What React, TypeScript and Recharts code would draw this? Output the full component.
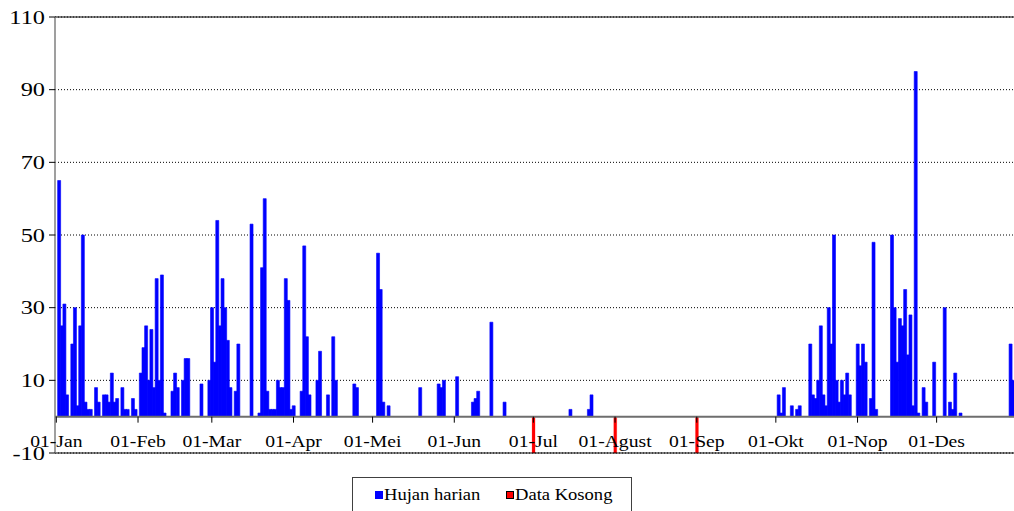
import React from 'react';
import { BarChart, Bar, XAxis, YAxis, CartesianGrid, ReferenceLine, Legend } from 'recharts';

// ---- data ----
const monthLabels = ['01-Jan', '01-Feb', '01-Mar', '01-Apr', '01-Mei', '01-Jun', '01-Jul', '01-Agust', '01-Sep', '01-Okt', '01-Nop', '01-Des'];
const monthStartDays = [0, 31, 59, 90, 120, 151, 181, 212, 243, 273, 304, 334];
const daysInYear = 365;

// day-of-year (0 = 01-Jan) and daily rainfall (mm), first half of the year
const firstHalfDays = [
  1, 2, 3, 4, 6, 7, 8, 9, 10, 11, 12, 13, 15, 16, 18, 19, 20, 21, 22, 23, 25, 26, 27, 29, 30,
  32, 33, 34, 35, 36, 37, 38, 39, 40, 41, 44, 45, 46, 48, 49, 50, 55,
  58, 59, 60, 61, 62, 63, 64, 65, 66, 68, 69, 74, 77, 78, 79, 80, 81, 82, 83, 84, 85, 86, 87, 88, 89,
  90, 93, 94, 95, 96, 99, 100, 103, 105, 106, 113, 114,
  122, 123, 124, 126, 138,
  145, 146, 147, 152, 158, 159, 160, 165, 170,
];
const firstHalfMm = [
  65, 25, 31, 6, 20, 30, 3, 25, 50, 4, 2, 2, 8, 4, 6, 6, 4, 12, 4, 5, 8, 2, 2, 5, 2,
  12, 19, 25, 10, 24, 8, 38, 10, 39, 1, 7, 12, 8, 10, 16, 16, 9,
  10, 30, 15, 54, 25, 38, 30, 21, 8, 7, 20, 53, 1, 41, 60, 7, 2, 2, 2, 10, 8, 8, 38, 32, 2,
  3, 7, 47, 22, 6, 10, 18, 6, 22, 10, 9, 8,
  45, 35, 4, 3, 8,
  9, 8, 10, 11, 4, 5, 7, 26, 4,
];
// second half of the year
const secondHalfDays = [
  195, 202, 203,
  274, 275, 276, 279, 281, 282, 286, 287, 288, 289, 290, 291, 292, 293, 294, 295, 296, 297, 298, 299, 300, 301,
  304, 305, 306, 307, 309, 310, 311, 317, 318, 319, 320, 321, 322, 323, 324, 325, 326, 327, 329, 330, 333,
  337, 339, 340, 341, 343, 362, 363,
];
const secondHalfMm = [
  2, 2, 6,
  6, 1, 8, 3, 2, 3, 20, 6, 5, 10, 25, 6, 3, 30, 20, 50, 10, 4, 10, 6, 12, 6,
  20, 14, 20, 15, 5, 48, 2, 50, 30, 15, 27, 25, 35, 17, 28, 3, 95, 1, 8, 4, 15,
  30, 4, 2, 12, 1, 20, 10,
];
// days with missing data (drawn as -10)
const missingDays = [181, 212, 243];
const missingValue = -10;

const seriesNames = ['Hujan harian', 'Data Kosong'];
const yTicks = [-10, 10, 30, 50, 70, 90, 110];
const Y_MIN = -10;
const Y_MAX = 110;

const data = Array.from({ length: daysInYear }, (_, d) => ({ day: d, hujan: 0, kosong: 0 }));
firstHalfDays.forEach((d, i) => { data[d].hujan = firstHalfMm[i]; });
secondHalfDays.forEach((d, i) => { data[d].hujan = secondHalfMm[i]; });
missingDays.forEach((d) => { data[d].kosong = missingValue; });

// ---- layout ----
const CHART_W = 1020;
const CHART_H = 511;
const MARGIN = { top: 17, right: 3, left: 0, bottom: 28 };
const X_AXIS_H = 30;
const PLOT_H = CHART_H - MARGIN.top - MARGIN.bottom - X_AXIS_H;
const zeroY = MARGIN.top + (PLOT_H * (Y_MAX - 0)) / (Y_MAX - Y_MIN);

const FONT = 'Liberation Serif, Times New Roman, serif';

function XTick(props: any) {
  const { x, payload } = props;
  const idx = monthStartDays.indexOf(payload.value);
  const label = idx >= 0 ? monthLabels[idx] : '';
  return (
    <g>
      <line x1={x} x2={x} y1={zeroY} y2={zeroY + 6} stroke="#000" strokeWidth={1} />
      <text
        transform={`translate(${x},${zeroY + 30}) scale(1.19,1)`}
        textAnchor="middle"
        style={{ fontFamily: FONT }}
        fontSize={16.5}
        fill="#000"
      >
        {label}
      </text>
    </g>
  );
}

function YTick(props: any) {
  const { x, y, payload } = props;
  return (
    <text
      transform={`translate(${x - 2},${y}) scale(1.25,1)`}
      textAnchor="end"
      dy="0.35em"
      style={{ fontFamily: FONT }}
      fontSize={19.5}
      fill="#000"
    >
      {payload.value}
    </text>
  );
}

function LegendBox(props: any) {
  const payload = [...(props.payload || [])].sort(
    (a: any, b: any) => seriesNames.indexOf(a.value) - seriesNames.indexOf(b.value)
  );
  const lefts = [22, 153];
  return (
    <div
      style={{
        position: 'relative',
        width: 280,
        height: 42,
        border: '1px solid #404040',
        boxSizing: 'border-box',
        background: '#fff',
      }}
    >
      {payload.map((entry: any, i: number) => (
        <React.Fragment key={i}>
          <span
            style={{
              position: 'absolute',
              left: lefts[i],
              top: 13,
              width: 8,
              height: 8,
              boxSizing: 'border-box',
              background: entry.color,
              border: i === 1 ? '1px solid #000' : 'none',
            }}
          />
          <span
            style={{
              position: 'absolute',
              left: lefts[i] + 9,
              top: 9,
              fontFamily: FONT,
              fontSize: 16,
              lineHeight: '16px',
              color: '#000',
              whiteSpace: 'nowrap',
              transform: 'scaleX(1.16)',
              transformOrigin: 'left center',
            }}
          >
            {entry.value}
          </span>
        </React.Fragment>
      ))}
    </div>
  );
}

export default function App() {
  return (
    <div
      style={{
        position: 'fixed',
        left: 0,
        top: 0,
        width: 1014,
        height: 511,
        overflow: 'hidden',
        background: '#fff',
      }}
    >
      <BarChart
        width={CHART_W}
        height={CHART_H}
        data={data}
        margin={MARGIN}
        barCategoryGap={0}
        barGap={0}
        stackOffset="sign"
      >
        <CartesianGrid vertical={false} stroke="#000" strokeDasharray="1 2" />
        <XAxis
          dataKey="day"
          type="category"
          ticks={monthStartDays}
          interval={0}
          height={X_AXIS_H}
          axisLine={{ stroke: '#000', strokeWidth: 1 }}
          tickLine={false}
          tick={<XTick />}
        />
        <YAxis
          type="number"
          domain={[Y_MIN, Y_MAX]}
          ticks={yTicks}
          interval={0}
          width={55}
          axisLine={{ stroke: '#7f7f7f', strokeWidth: 1.5 }}
          tickLine={{ stroke: '#000' }}
          tickSize={6}
          tick={<YTick />}
        />
        <ReferenceLine y={Y_MAX} stroke="#000" strokeWidth={1} />
        <Bar
          dataKey="hujan"
          name={seriesNames[0]}
          stackId="a"
          fill="#0000ff"
          stroke="#0000ff"
          strokeWidth={0.6}
          isAnimationActive={false}
        />
        <Bar
          dataKey="kosong"
          name={seriesNames[1]}
          stackId="a"
          fill="#ff0000"
          stroke="#ff0000"
          strokeWidth={0.2}
          isAnimationActive={false}
        />
        <ReferenceLine y={0} stroke="#6e6e6e" strokeWidth={2} />
        <Legend
          layout="horizontal"
          verticalAlign="middle"
          align="center"
          content={<LegendBox />}
          wrapperStyle={{ left: 352, top: 477, width: 280, height: 42 }}
        />
      </BarChart>
    </div>
  );
}
